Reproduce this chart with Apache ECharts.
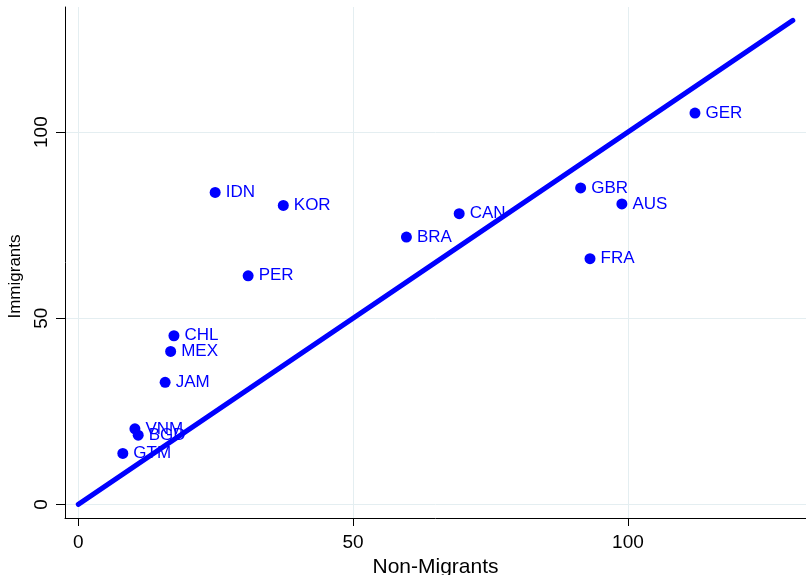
<!DOCTYPE html>
<html>
<head>
<meta charset="utf-8">
<script src="https://cdn.jsdelivr.net/npm/echarts@6/dist/echarts.min.js"></script>
<style>
html,body{margin:0;padding:0;background:#fff;}
#chart{width:806px;height:575px;}
</style>
</head>
<body>
<div id="chart"></div>
<script>
const countries = ["GER","GBR","AUS","FRA","IDN","KOR","CAN","BRA","PER","CHL","MEX","JAM","VNM","BGD","GTM"];
const nonMigrants = [112.2, 91.4, 98.9, 93.1, 24.9, 37.3, 69.3, 59.7, 30.9, 17.4, 16.8, 15.8, 10.3, 10.9, 8.1];
const immigrants  = [105.1, 85.0, 80.7, 66.0, 83.8, 80.3, 78.1, 71.8, 61.4, 45.3, 41.1, 32.8, 20.3, 18.6, 13.7];
const lineX = [0, 130];
const lineY = [0, 130];
const tickValues = [0, 50, 100];

const font = "Liberation Sans";
const blue = "#0000ff";
const scatterData = countries.map((c, i) => [nonMigrants[i], immigrants[i], c]);
const lineData = lineX.map((x, i) => [x, lineY[i]]);

const chart = echarts.init(document.getElementById('chart'), null, {renderer: 'canvas'});
chart.setOption({
  animation: false,
  backgroundColor: '#ffffff',
  grid: {left: 65, right: 0, top: 7, bottom: 57, containLabel: false, outerBoundsMode: 'none'},
  xAxis: {
    type: 'value', min: -2.42, max: 132.4,
    name: 'Non-Migrants', nameLocation: 'middle', nameGap: 33,
    nameTextStyle: {fontFamily: font, fontSize: 21, color: '#000'},
    axisLine: {show: true, onZero: false, lineStyle: {color: '#000', width: 1}},
    axisTick: {show: true, length: 8, customValues: tickValues, lineStyle: {color: '#000'}},
    axisLabel: {customValues: tickValues, margin: 15, fontFamily: font, fontSize: 19, color: '#000'},
    splitLine: {show: true, lineStyle: {color: '#e4eef1', width: 1}}
  },
  yAxis: {
    type: 'value', min: -3.65, max: 133.6,
    name: 'Immigrants', nameLocation: 'middle', nameGap: 40, nameRotate: 90,
    nameTextStyle: {fontFamily: font, fontSize: 17, color: '#000', padding: [0, 28, 0, 0]},
    axisLine: {show: true, onZero: false, lineStyle: {color: '#000', width: 1}},
    axisTick: {show: true, length: 9, customValues: tickValues, lineStyle: {color: '#000'}},
    axisLabel: {customValues: tickValues, rotate: 90, margin: 14, fontFamily: font, fontSize: 19, color: '#000'},
    splitLine: {show: true, lineStyle: {color: '#e4eef1', width: 1}}
  },
  series: [
    {
      type: 'scatter', z: 2,
      data: scatterData,
      symbol: 'circle', symbolSize: 11,
      itemStyle: {color: blue, opacity: 1},
      label: {
        show: true, position: 'right', distance: 5,
        formatter: p => p.data[2],
        fontFamily: font, fontSize: 17, color: blue
      }
    },
    {
      type: 'line', z: 3,
      data: lineData,
      showSymbol: false, symbol: 'none',
      lineStyle: {color: blue, width: 5, cap: 'round'}
    }
  ]
});
</script>
</body>
</html>
